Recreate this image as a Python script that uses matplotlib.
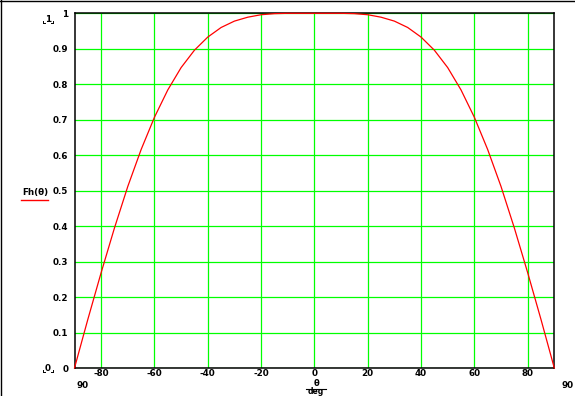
import matplotlib
matplotlib.use("Agg")
import matplotlib.pyplot as plt
from matplotlib.lines import Line2D

# Data (theta in degrees, Fh value)
theta = [-90, -85, -80, -75, -70, -65, -60, -55, -50, -45, -40, -35, -30, -25, -20,
         -15, -10, -5, 0, 5, 10, 15, 20, 25, 30, 35, 40, 45, 50, 55, 60, 65, 70, 75,
         80, 85, 90]
fh = [0.0, 0.137, 0.269, 0.395, 0.512, 0.616, 0.707, 0.784, 0.847, 0.896, 0.933,
      0.960, 0.978, 0.989, 0.996, 0.999, 1.0, 1.0, 1.0, 1.0, 1.0, 0.999, 0.996,
      0.989, 0.978, 0.960, 0.933, 0.896, 0.847, 0.784, 0.707, 0.616, 0.512, 0.395,
      0.269, 0.137, 0.0]
xticks = [-80, -60, -40, -20, 0, 20, 40, 60, 80]
xtick_labels = ["-80", "-60", "-40", "-20", "0", "20", "40", "60", "80"]
yticks = [0, 0.1, 0.2, 0.3, 0.4, 0.5, 0.6, 0.7, 0.8, 0.9, 1]
ytick_labels = ["0", "0.1", "0.2", "0.3", "0.4", "0.5", "0.6", "0.7", "0.8", "0.9", "1"]

W, H = 575, 396
fig = plt.figure(figsize=(W / 100, H / 100), dpi=100)
fig.patch.set_facecolor("white")

L, R, T, B = 74.5, 554.3, 13.3, 368.0
ax = fig.add_axes([L / W, 1 - B / H, (R - L) / W, (B - T) / H])
ax.set_xlim(-90, 90)
ax.set_ylim(0, 1)

font = dict(family="DejaVu Sans", fontsize=6.3, fontweight="bold")

ax.set_xticks(xticks)
ax.set_xticklabels(xtick_labels, **font)
ax.set_yticks(yticks)
ax.set_yticklabels(ytick_labels, **font)
ax.tick_params(axis="x", length=0, pad=0.5)
ax.tick_params(axis="y", length=0, pad=4.5)
ax.grid(True, color="#00ff00", linewidth=0.9)
ax.set_axisbelow(True)
for s in ax.spines.values():
    s.set_linewidth(1.1)
    s.set_color("black")

ax.plot(theta, fh, color="red", linewidth=0.9, zorder=3, clip_on=False)

def px(x, y):
    return x / W, 1 - y / H

# limit labels
fig.text(*px(83, 385), "90", ha="center", va="center", **font)
fig.text(*px(568, 385), "90", ha="center", va="center", **font)

# x-axis label: theta over deg
fig.text(*px(316, 383.5), "θ", ha="center", va="center",
         family="DejaVu Sans", fontsize=6.0, fontweight="bold")
fig.add_artist(Line2D([306 / W, 326 / W], [1 - 388.5 / H] * 2, color="black", linewidth=0.8))
fig.text(*px(316, 392), "deg", ha="center", va="center",
         family="DejaVu Sans", fontsize=5.5, fontweight="bold")

# y-axis label with red underline
fig.text(*px(35, 192), "Fh(θ)", ha="center", va="center", **font)
fig.add_artist(Line2D([21 / W, 48 / W], [1 - 200.5 / H] * 2, color="red", linewidth=1.0))

# y-limit markers with brackets
def limit_marker(xc, yc, txt):
    fig.text(*px(xc, yc), txt, ha="center", va="center", **font)
    for sx in (-1, 1):
        x0 = xc + sx * 5
        x1 = xc + sx * 3
        yb = yc + 3.5
        fig.add_artist(Line2D([x0 / W, x0 / W], [1 - (yb - 2.5) / H, 1 - yb / H],
                              color="black", linewidth=0.7))
        fig.add_artist(Line2D([x0 / W, x1 / W], [1 - yb / H, 1 - yb / H],
                              color="black", linewidth=0.7))

limit_marker(48, 19.5, "1")
limit_marker(48, 368.5, "0")

# outer frame (left and top)
fig.add_artist(Line2D([0.5 / W, 0.5 / W], [0, 1], color="black", linewidth=1.0))
fig.add_artist(Line2D([0, 1], [1 - 0.5 / H] * 2, color="black", linewidth=1.0))

fig.savefig("out.png", dpi=100)
